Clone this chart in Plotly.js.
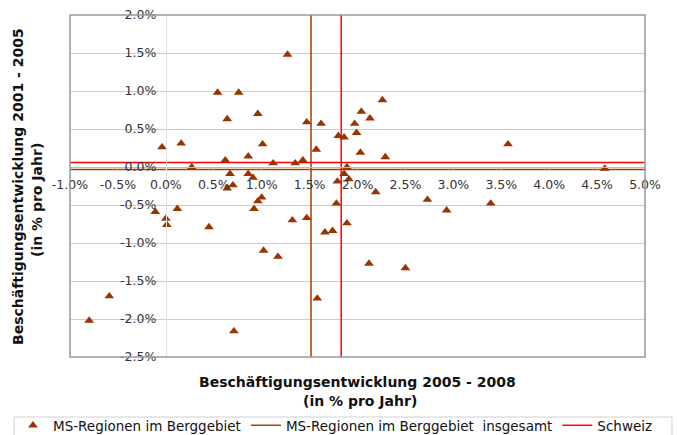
<!DOCTYPE html>
<html>
<head>
<meta charset="utf-8">
<script src="https://cdn.plot.ly/plotly-3.0.1.min.js"></script>
<style>
  html, body { margin: 0; padding: 0; background: #fff; }
  #chart { width: 677px; height: 435px; }
</style>
</head>
<body>
<div id="chart"></div>
<script>
// Beschäftigungsentwicklung 2005-2008 (x) vs 2001-2005 (y), % pro Jahr
const regionX = [0.54, 0.76, 0.96, 0.64, -0.04, 0.16, 1.01, 0.62, 0.86, 1.12,
                 0.27, 0.67, 0.86, 0.91, 0.70, 0.64, 1.27, 2.26, 2.04, 2.13,
                 1.47, 1.62, 1.97, 1.99, 1.80, 1.86, 1.57, 2.03, 2.29, 1.35,
                 1.43, 1.89, 1.86, 1.91, 1.79, 2.19, 1.78, 1.32, 1.47, 1.89,
                 1.66, 1.74, 1.17, 1.02, 2.12, 2.50, 1.58, -0.11, 0.00, 0.01,
                 0.12, 0.45, 0.92, 0.96, 1.00, -0.59, -0.80, 0.71, 3.57, 4.58,
                 2.73, 2.93, 3.39];
const regionY = [0.98, 0.98, 0.70, 0.63, 0.26, 0.31, 0.30, 0.09, 0.14, 0.05,
                 0.00, -0.09, -0.09, -0.14, -0.24, -0.28, 1.48, 0.88, 0.73, 0.64,
                 0.59, 0.57, 0.57, 0.45, 0.41, 0.39, 0.23, 0.19, 0.13, 0.05,
                 0.09, 0.00, -0.09, -0.16, -0.19, -0.33, -0.48, -0.70, -0.67, -0.74,
                 -0.86, -0.84, -1.18, -1.10, -1.27, -1.33, -1.73, -0.59, -0.68, -0.76,
                 -0.55, -0.79, -0.55, -0.45, -0.40, -1.70, -2.02, -2.16, 0.30, -0.02,
                 -0.43, -0.57, -0.48];

// Mittelwerte
const totalX = 1.515, totalY = -0.033;   // MS-Regionen im Berggebiet insgesamt
const swissX = 1.83,  swissY = 0.06;     // Schweiz

const xRange = [-1, 5];
const yRange = [-2.5, 2];
const xTickVals = [-1, -0.5, 0, 0.5, 1, 1.5, 2, 2.5, 3, 3.5, 4, 4.5, 5];
const xTickLabels = ['-1.0%', '-0.5%', '0.0%', '0.5%', '1.0%', '1.5%', '2.0%', '2.5%', '3.0%', '3.5%', '4.0%', '4.5%', '5.0%'];
const yTickVals = [2, 1.5, 1, 0.5, 0, -0.5, -1, -1.5, -2, -2.5];
const yTickLabels = ['2.0%', '1.5%', '1.0%', '0.5%', '0.0%', '-0.5%', '-1.0%', '-1.5%', '-2.0%', '-2.5%'];

const seriesNames = ['MS-Regionen im Berggebiet', 'MS-Regionen im Berggebiet \u00a0insgesamt', 'Schweiz'];

const FONT = 'DejaVu Sans, Verdana, sans-serif';

function crossTrace(cx, cy, name, color, rank) {
  return {
    type: 'scatter', mode: 'lines', name: name, legendrank: rank,
    x: [cx, cx, null, xRange[0], xRange[1]],
    y: [yRange[0], yRange[1], null, cy, cy],
    line: { color: color, width: 1.5 },
    hoverinfo: 'skip', connectgaps: false
  };
}

const traces = [
  crossTrace(totalX, totalY, seriesNames[1], '#A83C00', 2),
  crossTrace(swissX, swissY, seriesNames[2], '#FF0000', 3),
  {
    type: 'scatter', mode: 'markers', name: seriesNames[0], legendrank: 1,
    x: regionX, y: regionY,
    marker: { symbol: 'triangle-up', size: 8.5, color: '#993300', line: { width: 0 } }
  }
];

const plotL = 70, plotR = 645, plotT = 15, plotB = 357;
const W = 677, H = 435;
const pw = plotR - plotL, ph = plotB - plotT;
const px = v => (v - plotL) / pw;
const py = v => (plotB - v) / ph;

const layout = {
  width: W, height: H,
  margin: { l: plotL, r: W - plotR, t: plotT, b: H - plotB, pad: 0, autoexpand: false },
  paper_bgcolor: '#ffffff', plot_bgcolor: '#ffffff',
  font: { family: FONT, size: 12, color: '#333333' },
  showlegend: true,
  xaxis: {
    range: xRange, anchor: 'free',
    position: (0 - yRange[0]) / (yRange[1] - yRange[0]),
    tickvals: xTickVals, ticktext: xTickLabels,
    showgrid: false, zeroline: false,
    showline: true, linecolor: '#bbbbbb', linewidth: 1,
    ticks: 'outside', ticklen: 3, tickcolor: '#bbbbbb', ticklabelstandoff: 3,
    tickfont: { family: FONT, size: 12.5, color: '#333333' }
  },
  yaxis: {
    range: yRange, anchor: 'free',
    position: (0 - xRange[0]) / (xRange[1] - xRange[0]),
    tickvals: yTickVals, ticktext: yTickLabels,
    showgrid: true, gridcolor: '#cccccc', gridwidth: 1,
    zeroline: false,
    showline: true, linecolor: '#e2e2e2', linewidth: 1,
    ticks: '', ticklabelstandoff: 7,
    tickfont: { family: FONT, size: 12.5, color: '#333333' }
  },
  shapes: [
    {
      type: 'rect', xref: 'x domain', yref: 'y domain', x0: 0, x1: 1, y0: 0, y1: 1,
      line: { color: '#999999', width: 1.5 }, fillcolor: 'rgba(0,0,0,0)', layer: 'above'
    },
    {
      type: 'rect', xref: 'paper', yref: 'paper', x0: px(14), x1: px(672), y0: py(417), y1: py(442),
      line: { color: '#d0d0d0', width: 1 }, fillcolor: '#ffffff', layer: 'below'
    }
  ],
  annotations: [
    { xref: 'paper', yref: 'paper', x: px(357), y: py(382), xanchor: 'center', yanchor: 'middle',
      text: '<b>Beschäftigungsentwicklung 2005 - 2008</b>', showarrow: false,
      font: { family: FONT, size: 14, color: '#111111' } },
    { xref: 'paper', yref: 'paper', x: px(360), y: py(401), xanchor: 'center', yanchor: 'middle',
      text: '<b>(in % pro Jahr)</b>', showarrow: false,
      font: { family: FONT, size: 14, color: '#111111' } },
    { xref: 'paper', yref: 'paper', x: px(18), y: py(187), xanchor: 'center', yanchor: 'middle',
      text: '<b>Beschäftigungsentwicklung 2001 - 2005</b>', showarrow: false, textangle: -90,
      font: { family: FONT, size: 14, color: '#111111' } },
    { xref: 'paper', yref: 'paper', x: px(37), y: py(200), xanchor: 'center', yanchor: 'middle',
      text: '<b>(in % pro Jahr)</b>', showarrow: false, textangle: -90,
      font: { family: FONT, size: 14, color: '#111111' } }
  ],
  legend: {
    orientation: 'h', x: px(13), xanchor: 'left', y: py(410), yanchor: 'top',
    borderwidth: 0, bgcolor: 'rgba(0,0,0,0)',
    font: { family: FONT, size: 13.5, color: '#111111' },
    itemwidth: 30, tracegroupgap: 0
  }
};

Plotly.newPlot('chart', traces, layout, { displayModeBar: false, staticPlot: true });
</script>
</body>
</html>
